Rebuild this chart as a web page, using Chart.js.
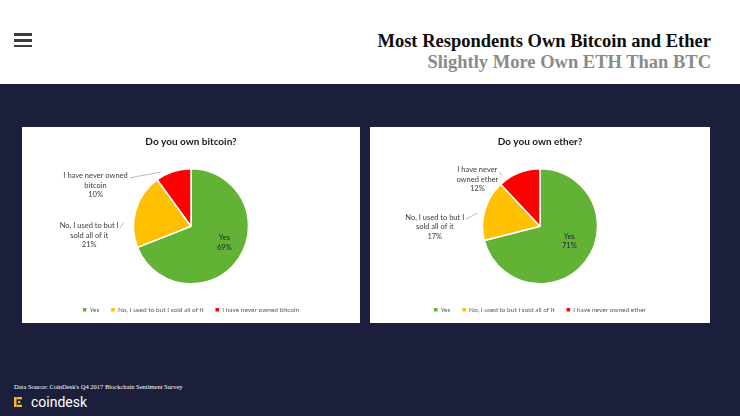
<!DOCTYPE html>
<html>
<head>
<meta charset="utf-8">
<script src="https://cdn.jsdelivr.net/npm/chart.js@4.4.1/dist/chart.umd.min.js"></script>
<style>
  html, body { margin: 0; padding: 0; }
  body {
    width: 740px; height: 416px; position: relative; overflow: hidden;
    background: #1b1f3c; font-family: Lato, sans-serif;
  }
  .header { position: absolute; left: 0; top: 0; width: 740px; height: 84px; background: #fff; }
  .bar { position: absolute; left: 14px; width: 18px; height: 2.5px; background: #3d3d3d; }
  .head-title, .head-sub {
    position: absolute; right: 29px; white-space: nowrap;
    font: bold 18.5px/19px "Liberation Serif", "Times New Roman", serif;
  }
  .head-title { top: 32px; color: #0d0d0d; }
  .head-sub { top: 53px; color: #8a8a8a; }
  .panel { position: absolute; top: 127px; height: 196px; background: #fff; }
  .panel canvas { display: block; }
  .source {
    position: absolute; left: 14px; top: 383px; color: #fff;
    font: 6.5px/8px "Liberation Serif", serif; white-space: nowrap;
  }
  .logo { position: absolute; left: 14px; top: 397px; }
  .brand {
    position: absolute; left: 31px; top: 395px; color: #fff;
    font: 14px/14px Roboto, sans-serif;
  }
</style>
</head>
<body>
<div class="header">
  <div class="bar" style="top:33.3px"></div>
  <div class="bar" style="top:39.3px"></div>
  <div class="bar" style="top:44.8px"></div>
  <div class="head-title">Most Respondents Own Bitcoin and Ether</div>
  <div class="head-sub">Slightly More Own ETH Than BTC</div>
</div>

<div class="panel" style="left:22px;width:338px"><canvas id="btcChart" width="338" height="196"></canvas></div>
<div class="panel" style="left:370px;width:340px"><canvas id="ethChart" width="340" height="196"></canvas></div>

<div class="source">Data Source: CoinDesk's Q4 2017 Blockchain Sentiment Survey</div>
<svg class="logo" width="8" height="10" viewBox="0 0 8 10">
  <g fill="#f5b52e">
    <rect x="0" y="0" width="2.5" height="10"/>
    <rect x="2.5" y="0" width="5.5" height="2.3"/>
    <rect x="2.5" y="7.7" width="5.5" height="2.3"/>
    <rect x="4" y="3.9" width="2.3" height="2.2"/>
  </g>
</svg>
<div class="brand">coindesk</div>

<script>
// Survey data
const btcQuestion = "Do you own bitcoin?";
const ethQuestion = "Do you own ether?";
const btcAnswers = ["Yes", "No, I used to but I sold all of it", "I have never owned bitcoin"];
const ethAnswers = ["Yes", "No, I used to but I sold all of it", "I have never owned ether"];
const btcShares = [69, 21, 10];
const ethShares = [71, 17, 12];

const sliceColors = ["#62b236", "#ffc000", "#ff0000"];

function wrapText(ctx, text, maxWidth) {
  const words = text.split(" ");
  const lines = [];
  let line = "";
  words.forEach((w) => {
    const test = line ? line + " " + w : w;
    if (line && ctx.measureText(test).width > maxWidth) {
      lines.push(line);
      line = w;
    } else {
      line = test;
    }
  });
  if (line) lines.push(line);
  return lines;
}

// Data labels with leader lines, placed relative to each arc
const sliceLabels = {
  id: "sliceLabels",
  afterDatasetsDraw(chart, args, opts) {
    const { ctx } = chart;
    const meta = chart.getDatasetMeta(0);
    const values = chart.data.datasets[0].data;
    ctx.save();
    ctx.font = `${opts.fontSize}px Lato, sans-serif`;
    ctx.textAlign = "center";
    ctx.textBaseline = "middle";
    meta.data.forEach((arc, i) => {
      const { x, y, outerRadius: r, startAngle, endAngle } = arc.getProps(
        ["x", "y", "outerRadius", "startAngle", "endAngle"], true);
      const place = opts.places[i];
      const lx = x + place.pos[0] * r;
      const ly = y + place.pos[1] * r;
      const lines = wrapText(ctx, chart.data.labels[i], place.wrap);
      lines.push(values[i] + "%");
      const lh = opts.lineHeight;
      const y0 = ly - ((lines.length - 1) / 2) * lh;

      if (place.leader) {
        const a = startAngle + place.leader.f * (endAngle - startAngle);
        const ex = x + Math.cos(a) * r * place.leader.r;
        const ey = y + Math.sin(a) * r * place.leader.r;
        const sx = lx + ctx.measureText(lines[0]).width / 2 + 1.5;
        const sy = y0 + 2;
        ctx.strokeStyle = "#a6a6a6";
        ctx.lineWidth = 0.75;
        ctx.beginPath();
        ctx.moveTo(sx, sy);
        ctx.lineTo(ex, ey);
        ctx.stroke();
      }

      ctx.fillStyle = place.color || "#404040";
      lines.forEach((t, k) => ctx.fillText(t, lx, y0 + k * lh));
    });
    ctx.restore();
  },
};

function legendLabels(chart) {
  const base = Chart.overrides.doughnut.plugins.legend.labels.generateLabels(chart);
  return base.map((item) => ({ ...item, lineWidth: 0, strokeStyle: "transparent" }));
}

function createSurveyPie(canvasId, question, answers, shares, places) {
  const canvas = document.getElementById(canvasId);
  if (!canvas) return null;

  return new Chart(canvas.getContext("2d"), {
    type: "pie",
    data: {
      labels: answers,
      datasets: [
        {
          data: shares,
          backgroundColor: sliceColors,
          borderColor: "#ffffff",
          borderWidth: 1.5,
          radius: 57.5,
        },
      ],
    },
    options: {
      responsive: false,
      animation: false,
      events: [],
      layout: { padding: 0 },
      plugins: {
        title: {
          display: true,
          text: question,
          color: "#1a1a1a",
          font: { family: "Lato", size: 10, weight: "bold", lineHeight: 1.2 },
          padding: { top: 9, bottom: 10 },
        },
        legend: {
          position: "bottom",
          labels: {
            boxWidth: 3.5,
            boxHeight: 3.5,
            padding: 12,
            color: "#595959",
            font: { family: "Lato", size: 6.5 },
            generateLabels: legendLabels,
          },
        },
        tooltip: { enabled: false },
        sliceLabels: {
          fontSize: 7.5,
          lineHeight: 9.5,
          places,
        },
      },
    },
    plugins: [sliceLabels],
  });
}

createSurveyPie("btcChart", btcQuestion, btcAnswers, btcShares, [
  { pos: [0.58, 0.28], wrap: 200, color: "#262626" },
  { pos: [-1.77, 0.16], wrap: 68, leader: { f: 0.33, r: 1.17 } },
  { pos: [-1.66, -0.71], wrap: 75, leader: { f: 0.19, r: 1.08 } },
]);

createSurveyPie("ethChart", ethQuestion, ethAnswers, ethShares, [
  { pos: [0.51, 0.26], wrap: 200, color: "#262626" },
  { pos: [-1.83, 0.01], wrap: 68, leader: { f: 0.43, r: 1.11 } },
  { pos: [-1.09, -0.82], wrap: 50, leader: { f: 0.16, r: 1.1 } },
]);
</script>
</body>
</html>
